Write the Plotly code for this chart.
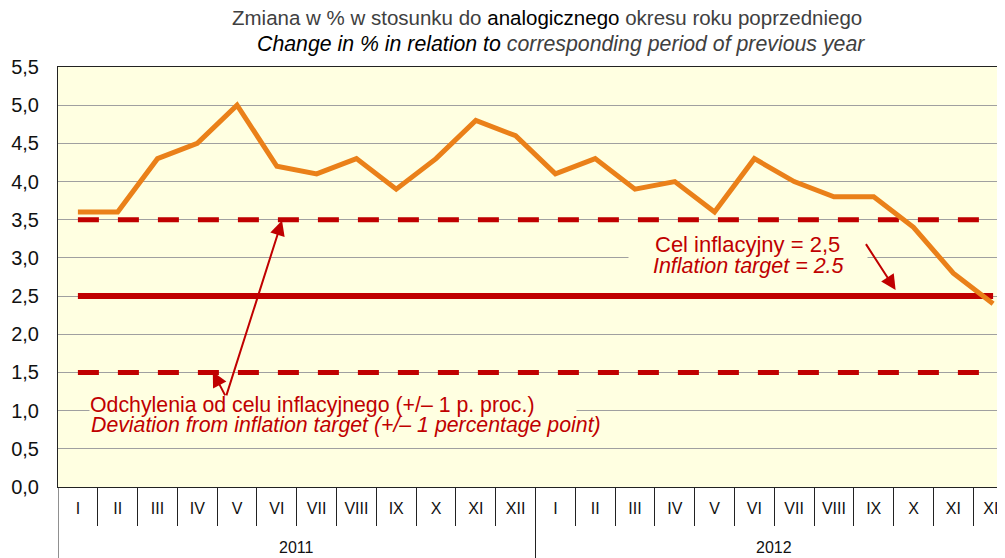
import plotly.graph_objects as go

months = ["I", "II", "III", "IV", "V", "VI", "VII", "VIII", "IX", "X", "XI", "XII"]
years = ["2011", "2012"]
month_labels = months * 2
x_idx = list(range(len(month_labels)))

cpi = [3.6, 3.6, 4.3, 4.5, 5.0, 4.2, 4.1, 4.3, 3.9, 4.3, 4.8, 4.6,
       4.1, 4.3, 3.9, 4.0, 3.6, 4.3, 4.0, 3.8, 3.8, 3.4, 2.8, 2.4]
target = [2.5] * 24
upper = [3.5] * 24
lower = [1.5] * 24

RED = "#C00000"
ORANGE = "#EA8019"
BG = "#FFFFE1"
FONT = "Liberation Sans, Arial, sans-serif"

fig = go.Figure()
fig.add_trace(go.Scatter(x=x_idx, y=upper, mode="lines",
                         line=dict(color=RED, width=5, dash="21px,19px"), hoverinfo="skip"))
fig.add_trace(go.Scatter(x=x_idx, y=lower, mode="lines",
                         line=dict(color=RED, width=5, dash="21px,19px"), hoverinfo="skip"))
fig.add_trace(go.Scatter(x=x_idx, y=target, mode="lines",
                         line=dict(color=RED, width=6), hoverinfo="skip"))
fig.add_trace(go.Scatter(x=x_idx, y=cpi, mode="lines",
                         line=dict(color=ORANGE, width=5)))

annotations = []
# title
annotations.append(dict(xref="paper", yref="paper", x=0.512, y=1.117, yanchor="middle",
                        showarrow=False, font=dict(family=FONT, size=20.5, color="#404040"),
                        text="Zmiana w % w stosunku do <span style='color:#000'>analogicznego</span> okresu roku poprzedniego"))
annotations.append(dict(xref="paper", yref="paper", x=0.527, y=1.055, yanchor="middle",
                        showarrow=False, font=dict(family=FONT, size=21.3, color="#404040"),
                        text="<i><span style='color:#000'>Change in % in relation to</span> corresponding period of previous year</i>"))
# inflation target label (second line carries the background that breaks the grid line)
annotations.append(dict(xref="x", yref="y", x=16.84, y=2.90, showarrow=False, borderpad=0,
                        bgcolor=BG, font=dict(family=FONT, size=21.5, color=RED),
                        text="    <i>Inflation target = 2.5</i>    "))
annotations.append(dict(xref="x", yref="y", x=16.84, y=3.18, showarrow=False, borderpad=0,
                        font=dict(family=FONT, size=22, color=RED),
                        text="Cel inflacyjny = 2,5"))
# deviation label
annotations.append(dict(xref="x", yref="y", x=0.27, y=1.075, xanchor="left", align="left",
                        showarrow=False, bgcolor=BG, borderpad=0, font=dict(family=FONT, size=21.3, color=RED),
                        text="Odchylenia od celu inflacyjnego (+/– 1 p. proc.)       "))
annotations.append(dict(xref="x", yref="y", x=0.27, y=0.815, xanchor="left", align="left",
                        showarrow=False, font=dict(family=FONT, size=21.3, color=RED),
                        text="<i>Deviation from inflation target (+/– 1 percentage point)</i>"))
# arrows
for hx, hy, tx, ty in [(20.55, 2.58, 19.78, 3.2), (5.13, 3.49, 3.72, 1.18), (3.39, 1.51, 3.72, 1.18)]:
    annotations.append(dict(xref="x", yref="y", x=hx, y=hy, axref="x", ayref="y", ax=tx, ay=ty,
                            text="", showarrow=True, arrowhead=2, arrowsize=1.5, arrowwidth=2,
                            arrowcolor=RED))
# year labels
for i, yr in enumerate(years):
    annotations.append(dict(xref="x", yref="paper", x=5.5 + 12 * i, y=-0.145, yanchor="middle",
                            showarrow=False, font=dict(family=FONT, size=16, color="#111"), text=yr))

shapes = []
for i in range(len(years)):
    shapes.append(dict(type="line", xref="x", yref="paper", x0=-0.5 + 12 * i, x1=-0.5 + 12 * i,
                       y0=0, y1=-0.2, line=dict(color="#222", width=1)))

fig.update_layout(
    width=1005, height=558,
    margin=dict(l=50, r=0, t=59, b=79, autoexpand=False),
    paper_bgcolor="white", plot_bgcolor=BG,
    showlegend=False,
    separators=", ",
    annotations=annotations,
    shapes=shapes,
    font=dict(family=FONT, size=17, color="#111"),
)
fig.update_xaxes(
    range=[-0.5, 23.5], tickmode="array", tickvals=x_idx, ticktext=month_labels,
    ticks="", showgrid=False, zeroline=False, automargin=False,
    showline=True, linecolor="#222", linewidth=1, mirror=True,
    tickfont=dict(family=FONT, size=16, color="#111"), ticklabelstandoff=7,
    minor=dict(tickmode="array", tickvals=[v + 0.5 for v in x_idx], ticks="outside",
               ticklen=38, tickcolor="#222", tickwidth=1, showgrid=False),
)
fig.update_yaxes(
    range=[0, 5.5], dtick=0.5, tick0=0, tickformat=".1f",
    showgrid=True, gridcolor="#A0A0A0", gridwidth=1, zeroline=False, automargin=False,
    showline=True, linecolor="#222", linewidth=1,
    ticks="", ticklabelstandoff=14,
    tickfont=dict(family=FONT, size=20, color="#111"),
)

fig.write_html("out.html")
